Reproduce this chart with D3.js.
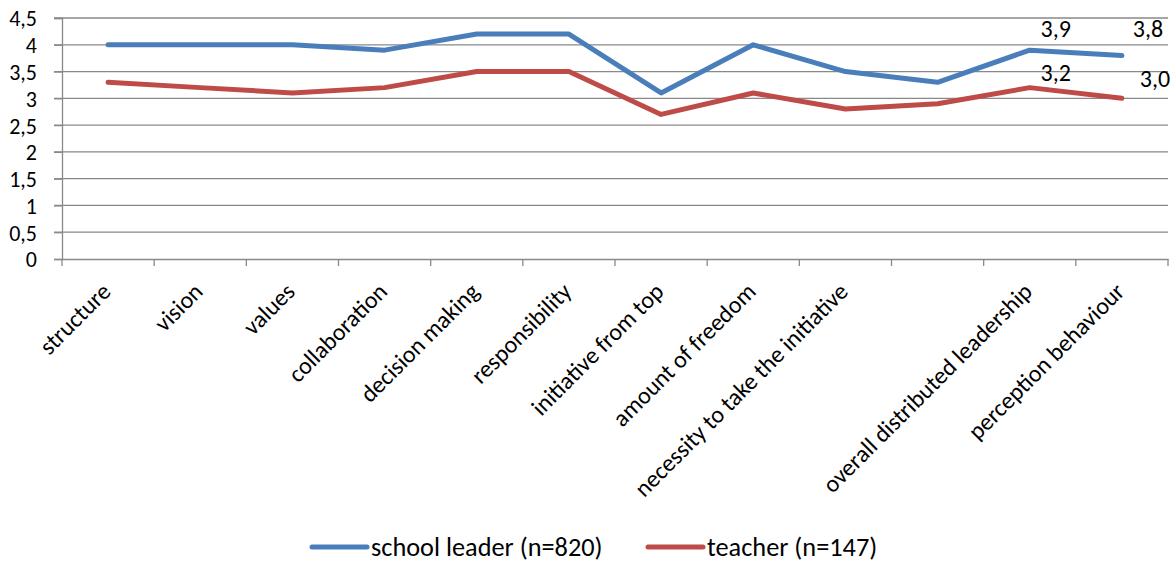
<!DOCTYPE html>
<html><head><meta charset="utf-8">
<script src="https://cdn.jsdelivr.net/npm/d3@7/dist/d3.min.js"></script>
<style>body{margin:0;background:#fff}svg{display:block}text{font-family:Carlito,Lato,"Open Sans",sans-serif;fill:#000}</style>
</head><body><svg id="c" width="1176" height="562"></svg>
<script>
const categories = ["structure","vision","values","collaboration","decision making","responsibility","initiative from top","amount of freedom","necessity to take the initiative","","overall distributed leadership","perception behaviour"];
const schoolLeader = [4.0,4.0,4.0,3.9,4.2,4.2,3.1,4.0,3.5,3.3,3.9,3.8];
const teacher = [3.3,3.2,3.1,3.2,3.5,3.5,2.7,3.1,2.8,2.9,3.2,3.0];
const yTicks = [0,0.5,1,1.5,2,2.5,3,3.5,4,4.5];
const seriesNames = ["school leader (n=820)","teacher (n=147)"];
const colors = ["#4A7EBB","#BE4B48"];
// indices with data labels
const labelled = [10,11];

const svg = d3.select("#c");
const pL = 62, pR = 1168, pT = 18, pB = 259;
const x = d3.scaleBand().domain(d3.range(categories.length)).range([pL,pR]).padding(0);
const y = d3.scaleLinear().domain([0,4.5]).range([pB,pT]);
const fmt = v => d3.format(".1f")(v).replace(".",",");
const fmtTick = v => String(v).replace(".",",");
const grid="#898989";

// gridlines
svg.append("g").selectAll("line").data(yTicks.filter(t=>t>0)).join("line")
 .attr("x1",pL-8).attr("x2",pR).attr("y1",d=>y(d)).attr("y2",d=>y(d))
 .attr("stroke",grid).attr("stroke-width",1.3);

// y axis
const ya = svg.append("g").attr("transform",`translate(${pL},0)`)
 .call(d3.axisLeft(y).tickValues(yTicks).tickFormat(fmtTick).tickSize(8).tickPadding(17));
ya.select(".domain").attr("stroke",grid).attr("stroke-width",1.3);
ya.selectAll(".tick line").attr("stroke",grid).attr("stroke-width",1.3);
ya.selectAll("text").attr("font-size",22).attr("dy","0.36em");

// x axis
const xa = svg.append("g").attr("transform",`translate(0,${pB})`)
 .call(d3.axisBottom(x).tickFormat(()=>"").tickSize(0));
xa.select(".domain").attr("stroke",grid).attr("stroke-width",1.3);
xa.selectAll(".tick").remove();
const bounds = d3.range(categories.length+1).map(i=> i<categories.length? x(i): pR);
svg.append("g").selectAll("line").data(bounds).join("line")
 .attr("x1",d=>d).attr("x2",d=>d).attr("y1",pB).attr("y2",pB+7)
 .attr("stroke",grid).attr("stroke-width",1.3);
svg.append("g").selectAll("text").data(categories).join("text")
 .attr("transform",(d,i)=>`translate(${x(i)+x.bandwidth()/2+4},${pB+34}) rotate(-45)`)
 .attr("text-anchor","end").attr("font-size",24).text(d=>d);

// lines
const line = d3.line().x((d,i)=>x(i)+x.bandwidth()/2).y(d=>y(d));
[schoolLeader,teacher].forEach((s,k)=>{
  svg.append("path").datum(s).attr("d",line).attr("fill","none")
   .attr("stroke",colors[k]).attr("stroke-width",5).attr("stroke-linecap","round").attr("stroke-linejoin","round");
});

// data labels
const offs = {"0-10":[26,-22],"0-11":[26,-27],"1-10":[26,-15],"1-11":[33,-20]};
[schoolLeader,teacher].forEach((s,k)=>{
  labelled.forEach(i=>{
    const o = offs[k+"-"+i];
    svg.append("text").attr("x",x(i)+x.bandwidth()/2+o[0]).attr("y",y(s[i])+o[1])
     .attr("text-anchor","middle").attr("dy","0.36em").attr("font-size",24).text(fmt(s[i]));
  });
});

// legend
const lg = svg.append("g");
const legX = [312,648];
seriesNames.forEach((n,k)=>{
  lg.append("line").attr("x1",legX[k]).attr("x2",legX[k]+55).attr("y1",547).attr("y2",547)
   .attr("stroke",colors[k]).attr("stroke-width",5).attr("stroke-linecap","round");
  lg.append("text").attr("x",legX[k]+59).attr("y",547).attr("dy","0.35em").attr("font-size",26.3).text(n);
});
</script></body></html>
